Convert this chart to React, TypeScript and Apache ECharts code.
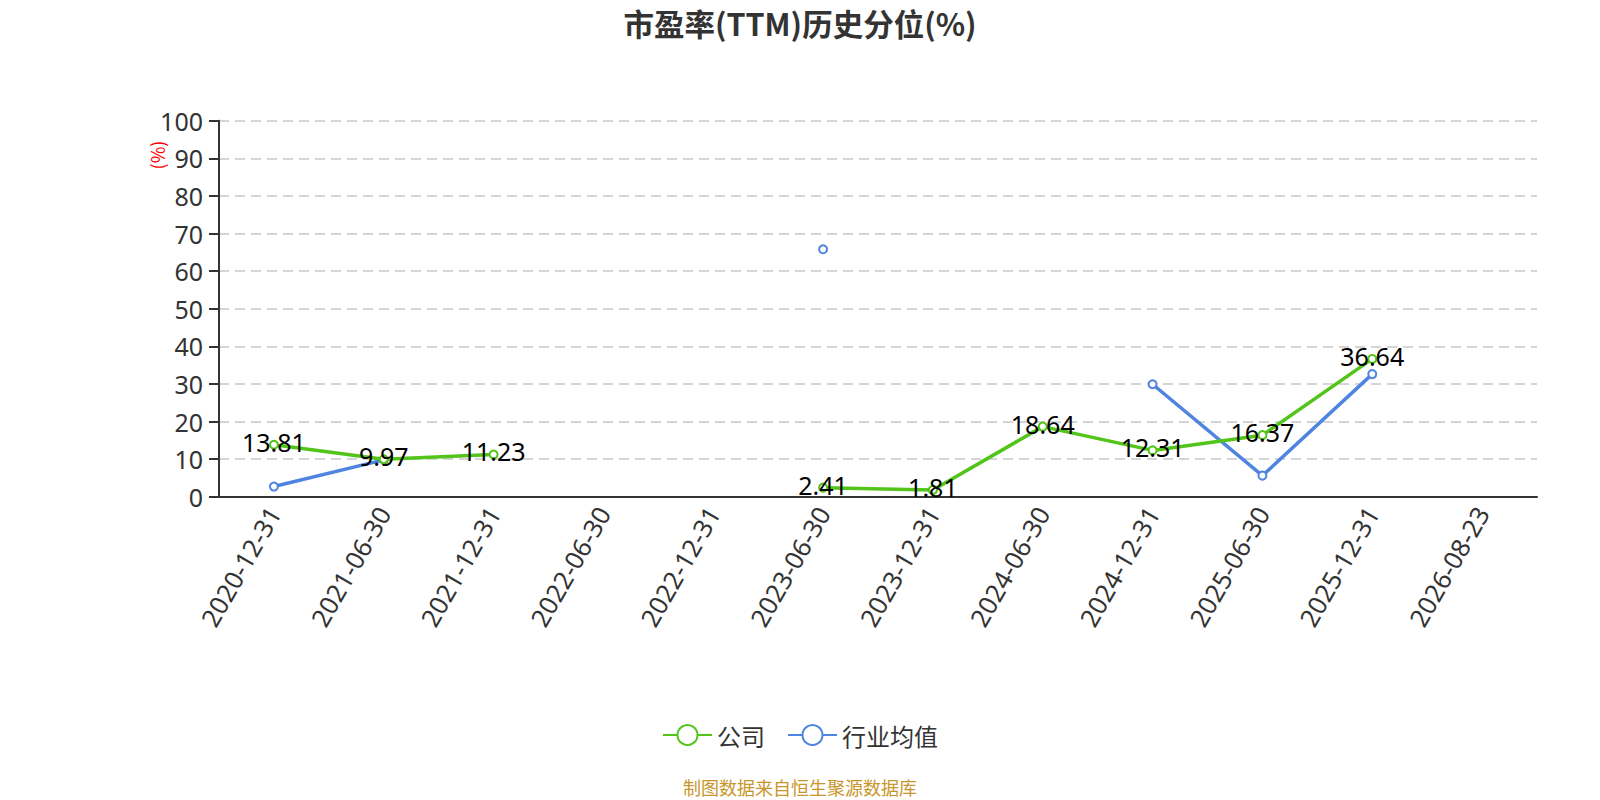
import React, { useEffect, useRef } from "react";
import * as echarts from "echarts";

const categories = [
  "2020-12-31", "2021-06-30", "2021-12-31", "2022-06-30", "2022-12-31", "2023-06-30",
  "2023-12-31", "2024-06-30", "2024-12-31", "2025-06-30", "2025-12-31", "2026-08-23",
];
const companyValues: (number | null)[] = [13.81, 9.97, 11.23, null, null, 2.41, 1.81, 18.64, 12.31, 16.37, 36.64, null];
const industryValues: (number | null)[] = [2.7, 9.8, null, null, null, 65.8, null, null, 29.9, 5.6, 32.6, null];
const yTicks = { min: 0, max: 100, interval: 10 };
const seriesNames = ["公司", "行业均值"];
const titleText = "市盈率(TTM)历史分位(%)";
const footerText = "制图数据来自恒生聚源数据库";

const FONT = "'Noto Sans CJK SC', 'Noto Sans', sans-serif";
const NUMFONT = "'Noto Sans', 'Noto Sans CJK SC', sans-serif";
const GREEN = "#52c41a";
const BLUE = "#4f84e0";

export default function App() {
  const ref = useRef<HTMLDivElement>(null);
  useEffect(() => {
    document.body.style.margin = "0";
    const chart = echarts.init(ref.current!, null, { renderer: "svg" });
    chart.setOption({
      animation: false,
      textStyle: { fontFamily: FONT },
      title: {
        text: titleText,
        left: "center",
        top: 7,
        padding: [0, 5],
        textStyle: { fontSize: 30.5, fontWeight: "bold", color: "#333", fontFamily: FONT, lineHeight: 32 },
      },
      legend: {
        data: seriesNames,
        top: 718,
        left: "center",
        itemWidth: 49,
        itemHeight: 25,
        itemGap: 22,
        textStyle: { fontSize: 24, color: "#333", fontFamily: FONT },
      },
      grid: { left: 219, right: 63, top: 120.7, bottom: 303.3 },
      xAxis: {
        type: "category",
        data: categories,
        boundaryGap: true,
        axisLine: { lineStyle: { color: "#333", width: 2 } },
        axisTick: { length: 8, lineStyle: { color: "#333", width: 2 } },
        axisLabel: { rotate: 60, fontSize: 25.5, color: "#333", margin: 12, interval: 0, fontFamily: NUMFONT },
        splitLine: { show: false },
      },
      yAxis: {
        type: "value",
        min: yTicks.min,
        max: yTicks.max,
        interval: yTicks.interval,
        axisLine: { show: true, lineStyle: { color: "#333", width: 2 } },
        axisTick: { show: true, length: 10, lineStyle: { color: "#333", width: 2 } },
        axisLabel: { fontSize: 25, color: "#333", margin: 16, fontFamily: NUMFONT },
        splitLine: { lineStyle: { type: [10, 6], color: "#c8c8c8", width: 1.5 } },
      },
      graphic: [
        {
          type: "text",
          x: 157,
          y: 155,
          rotation: Math.PI / 2,
          style: {
            text: "(%)",
            fill: "#ff0000",
            fontSize: 18,
            fontFamily: FONT,
            align: "center",
            verticalAlign: "middle",
          },
        },
        {
          type: "text",
          left: "center",
          top: 778,
          style: {
            text: footerText,
            fill: "#c8962a",
            fontSize: 18,
            fontFamily: FONT,
          },
        },
      ],
      series: [
        {
          name: seriesNames[0],
          type: "line",
          data: companyValues,
          connectNulls: false,
          symbol: "emptyCircle",
          symbolSize: 8,
          itemStyle: { color: GREEN, borderWidth: 2 },
          lineStyle: { color: GREEN, width: 3.5 },
          label: {
            show: true,
            position: "inside",
            offset: [0, -3],
            color: "#000",
            fontSize: 25,
            fontFamily: NUMFONT,
          },
          z: 3,
        },
        {
          name: seriesNames[1],
          type: "line",
          data: industryValues,
          connectNulls: false,
          symbol: "emptyCircle",
          symbolSize: 8,
          itemStyle: { color: BLUE, borderWidth: 2 },
          lineStyle: { color: BLUE, width: 3.5 },
          label: { show: false },
          z: 2,
        },
      ],
    });
    return () => chart.dispose();
  }, []);
  return <div ref={ref} style={{ position: "absolute", left: 0, top: 0, width: 1600, height: 800 }} />;
}
